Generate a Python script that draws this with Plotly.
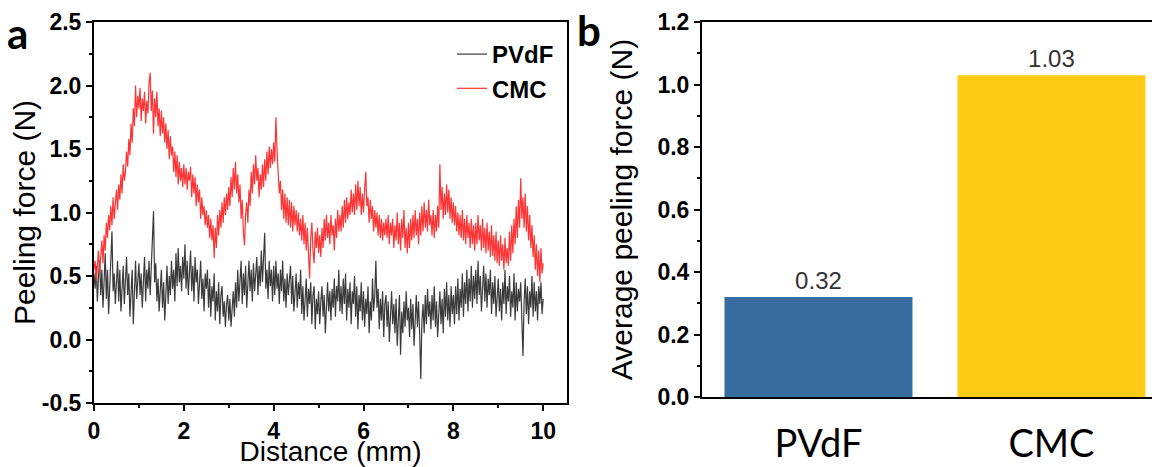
import plotly.graph_objects as go

# ---------------- data ----------------
# Peeling force (N) sampled every 0.025 mm from 0 to 10 mm
pvdf_force = [
    0.52, 0.40, 0.58, 0.30, 0.50, 0.62, 0.35, 0.55, 0.25, 0.48, 0.68, 0.32, 0.55, 0.20, 0.45, 0.60, 0.85, 0.38, 0.52, 0.28,
    0.48, 0.62, 0.30, 0.55, 0.22, 0.42, 0.58, 0.28, 0.50, 0.65, 0.35, 0.52, 0.18, 0.40, 0.55, 0.12, 0.45, 0.62, 0.32, 0.50,
    0.60, 0.35, 0.52, 0.25, 0.48, 0.65, 0.30, 0.55, 0.40, 0.62, 0.35, 0.58, 0.75, 1.01, 0.45, 0.60, 0.30, 0.48, 0.22, 0.42,
    0.55, 0.25, 0.45, 0.15, 0.40, 0.58, 0.28, 0.50, 0.35, 0.62, 0.40, 0.55, 0.30, 0.68, 0.42, 0.72, 0.45, 0.58, 0.38, 0.65,
    0.48, 0.75, 0.40, 0.62, 0.35, 0.55, 0.70, 0.38, 0.58, 0.30, 0.65, 0.45, 0.55, 0.28, 0.50, 0.62, 0.32, 0.48, 0.22, 0.52,
    0.40, 0.55, 0.25, 0.48, 0.18, 0.42, 0.30, 0.52, 0.15, 0.38, 0.22, 0.45, 0.12, 0.35, 0.42, 0.18, 0.30, 0.10, 0.28, 0.35,
    0.15, 0.32, 0.10, 0.28, 0.38, 0.18, 0.45, 0.25, 0.55, 0.30, 0.48, 0.62, 0.28, 0.52, 0.35, 0.58, 0.25, 0.48, 0.62, 0.38,
    0.55, 0.30, 0.60, 0.38, 0.52, 0.65, 0.35, 0.58, 0.42, 0.70, 0.45, 0.62, 0.84, 0.40, 0.55, 0.32, 0.62, 0.42, 0.55, 0.30,
    0.58, 0.35, 0.62, 0.40, 0.52, 0.28, 0.55, 0.38, 0.62, 0.30, 0.48, 0.25, 0.52, 0.35, 0.45, 0.58, 0.28, 0.50, 0.22, 0.42,
    0.52, 0.25, 0.45, 0.32, 0.55, 0.20, 0.42, 0.15, 0.38, 0.48, 0.18, 0.40, 0.28, 0.45, 0.12, 0.35, 0.42, 0.08, 0.32, 0.20,
    0.38, 0.12, 0.30, 0.42, 0.18, 0.35, 0.05, 0.28, 0.45, 0.22, 0.38, 0.15, 0.40, 0.25, 0.48, 0.18, 0.42, 0.30, 0.55, 0.22,
    0.42, 0.20, 0.48, 0.28, 0.52, 0.15, 0.40, 0.25, 0.45, 0.12, 0.38, 0.28, 0.50, 0.18, 0.42, 0.08, 0.35, 0.22, 0.45, 0.15,
    0.38, 0.10, 0.32, 0.20, 0.42, 0.05, 0.30, 0.15, 0.48, 0.22, 0.35, 0.62, 0.25, 0.40, 0.08, 0.32, 0.15, 0.38, 0.02, 0.28,
    0.35, 0.10, 0.30, -0.02, 0.25, 0.38, 0.12, 0.28, 0.05, 0.32, -0.05, 0.20, 0.35, -0.12, 0.22, 0.05, 0.30, 0.10, 0.38, 0.15,
    0.25, 0.02, 0.32, 0.08, 0.28, -0.05, 0.22, 0.35, 0.10, 0.30, 0.05, -0.31, 0.15, 0.28, 0.05, 0.35, 0.12, 0.40, 0.18, 0.30,
    0.08, 0.35, 0.15, 0.42, 0.10, 0.30, 0.02, 0.28, 0.38, 0.12, 0.32, 0.05, 0.40, 0.18, 0.45, 0.15, 0.35, 0.10, 0.42, 0.20,
    0.35, 0.12, 0.42, 0.20, 0.48, 0.15, 0.40, 0.25, 0.52, 0.18, 0.45, 0.28, 0.55, 0.22, 0.48, 0.30, 0.58, 0.25, 0.50, 0.32,
    0.55, 0.28, 0.62, 0.35, 0.50, 0.22, 0.45, 0.58, 0.30, 0.52, 0.25, 0.48, 0.35, 0.55, 0.20, 0.45, 0.28, 0.50, 0.18, 0.40,
    0.48, 0.22, 0.40, 0.15, 0.45, 0.28, 0.55, 0.20, 0.42, 0.30, 0.50, 0.18, 0.38, 0.25, 0.52, 0.15, 0.45, 0.22, 0.40, 0.30,
    0.45, 0.15, -0.13, 0.30, 0.48, 0.20, 0.42, 0.12, 0.38, 0.25, 0.50, 0.18, 0.45, 0.22, 0.38, 0.15, 0.42, 0.28, 0.45, 0.20,
    0.32,
]

cmc_force = [
    0.55, 0.62, 0.46, 0.58, 0.70, 0.52, 0.66, 0.78, 0.60, 0.82, 0.70, 0.92, 0.80, 0.98, 0.86, 1.05, 0.90, 1.12, 0.95, 1.08,
    1.18, 1.02, 1.22, 1.10, 1.30, 1.15, 1.38, 1.25, 1.32, 1.48, 1.36, 1.58, 1.45, 1.70, 1.55, 1.82, 1.68, 2.00, 1.75, 1.92,
    1.82, 1.98, 1.72, 1.90, 1.80, 1.95, 1.70, 1.88, 1.78, 2.02, 2.10, 1.80, 1.96, 1.62, 1.90, 1.75, 1.95, 1.68, 1.82, 1.60,
    1.80, 1.62, 1.75, 1.55, 1.70, 1.50, 1.65, 1.42, 1.60, 1.45, 1.52, 1.32, 1.48, 1.28, 1.45, 1.22, 1.40, 1.25, 1.35, 1.20,
    1.38, 1.22, 1.35, 1.18, 1.32, 1.25, 1.36, 1.12, 1.30, 1.15, 1.28, 1.05, 1.22, 1.08, 1.18, 0.95, 1.12, 0.98, 1.05, 0.90,
    1.02, 0.88, 0.98, 0.80, 0.95, 0.78, 0.90, 0.64, 0.88, 0.72, 0.98, 0.82, 1.02, 0.88, 1.08, 0.92, 1.12, 0.98, 1.15, 1.02,
    1.20, 1.05, 1.28, 1.12, 1.35, 1.18, 1.40, 1.15, 1.30, 1.08, 1.22, 0.95, 1.10, 0.85, 0.74, 0.98, 1.08, 0.92, 1.18, 1.05,
    1.32, 1.15, 1.38, 1.22, 1.45, 1.25, 1.35, 1.12, 1.30, 1.18, 1.38, 1.20, 1.42, 1.25, 1.48, 1.30, 1.52, 1.35, 1.50, 1.38,
    1.55, 1.40, 1.75, 1.48, 1.30, 1.15, 1.25, 1.02, 1.18, 0.95, 1.15, 0.92, 1.12, 0.90, 1.10, 0.88, 1.08, 0.85, 1.05, 0.90,
    1.02, 0.85, 1.00, 0.82, 0.95, 0.78, 0.98, 0.75, 0.92, 0.70, 0.88, 0.62, 0.48, 0.80, 0.92, 0.70, 0.60, 0.85, 0.72, 0.88,
    0.68, 0.82, 0.65, 0.88, 0.72, 0.95, 0.78, 0.98, 0.80, 0.92, 0.75, 0.98, 0.82, 0.90, 0.70, 0.95, 0.80, 1.02, 0.85, 0.98,
    0.85, 1.05, 0.88, 1.10, 0.92, 1.12, 0.95, 1.08, 0.98, 1.18, 1.00, 1.15, 0.98, 1.22, 1.02, 1.25, 1.05, 1.20, 0.98, 1.15,
    1.00, 1.18, 1.32, 1.05, 1.12, 0.92, 1.10, 0.95, 1.05, 0.85, 1.02, 0.88, 1.00, 0.82, 0.98, 0.80, 0.95, 0.78, 0.92, 0.82,
    0.95, 0.80, 0.98, 0.75, 0.92, 0.82, 0.95, 0.72, 0.90, 0.78, 1.00, 0.75, 0.92, 0.70, 0.95, 0.80, 1.02, 0.72, 0.88, 0.68,
    0.92, 0.72, 0.95, 0.78, 0.98, 0.80, 1.02, 0.82, 0.95, 0.75, 1.00, 0.82, 1.05, 0.85, 1.08, 0.88, 1.02, 0.85, 1.10, 0.90,
    0.98, 0.82, 1.02, 0.80, 0.98, 0.85, 1.05, 0.88, 1.38, 1.02, 1.20, 0.95, 1.15, 0.98, 1.22, 1.00, 1.18, 0.95, 1.12, 0.92,
    1.08, 0.90, 1.05, 0.85, 1.00, 0.82, 0.98, 0.80, 1.02, 0.78, 0.95, 0.75, 0.98, 0.80, 0.92, 0.72, 0.95, 0.75, 0.90, 0.70,
    0.92, 0.75, 0.98, 0.78, 0.90, 0.70, 0.95, 0.72, 0.88, 0.68, 0.92, 0.70, 0.85, 0.65, 0.90, 0.66, 0.82, 0.62, 0.85, 0.60,
    0.78, 0.58, 0.82, 0.62, 0.75, 0.55, 0.80, 0.60, 0.72, 0.58, 0.85, 0.62, 0.90, 0.68, 0.95, 0.75, 1.05, 0.80, 1.10, 0.88,
    1.27, 0.95, 1.12, 0.88, 1.15, 0.85, 1.05, 0.78, 0.98, 0.72, 0.90, 0.65, 0.82, 0.55, 0.75, 0.50, 0.70, 0.45, 0.72, 0.52,
    0.60,
]

step_mm = 0.025
pvdf_distance = [round(i * step_mm, 3) for i in range(len(pvdf_force))]
cmc_distance = [round(i * step_mm, 3) for i in range(len(cmc_force))]

left_ytick_vals = [-0.5, 0.0, 0.5, 1.0, 1.5, 2.0, 2.5]
left_ytick_text = ["-0.5", "0.0", "0.5", "1.0", "1.5", "2.0", "2.5"]

binders = ["PVdF", "CMC"]
avg_peel_force = [0.32, 1.03]
avg_labels = ["0.32", "1.03"]
bar_colors = ["#386ca0", "#fecc14"]

# ---------------- layout helpers ----------------
# The page body has an 8px margin; the figure is sized to fill the rest of the 1160x467 window.
OFF = 8
W, H = 1160 - OFF, 467 - OFF


def px(x):  # window x pixel -> paper fraction
    return (x - OFF) / W


def py(y):  # window y pixel (from top) -> paper fraction
    return 1 - (y - OFF) / H


TICKFONT = dict(family="Liberation Sans, Arial", size=23, color="black", weight="bold")
TITLEFONT = dict(family="Liberation Sans, Arial", size=30, color="black")

fig = go.Figure()
fig.add_trace(go.Scatter(x=pvdf_distance, y=pvdf_force, mode="lines", name="PVdF",
                         line=dict(color="#3a3a3a", width=1.2), xaxis="x", yaxis="y"))
fig.add_trace(go.Scatter(x=cmc_distance, y=cmc_force, mode="lines", name="CMC",
                         line=dict(color="#ff3333", width=1.2), xaxis="x", yaxis="y"))
fig.add_trace(go.Bar(x=binders, y=avg_peel_force, marker=dict(color=bar_colors, line=dict(width=0)),
                     text=avg_labels, textposition="outside",
                     textfont=dict(family="Liberation Sans, Arial", size=24, color="#333333"),
                     width=0.807, xaxis="x2", yaxis="y2", showlegend=False, cliponaxis=False))

axis_common = dict(showline=True, linewidth=2, linecolor="black", showgrid=False, zeroline=False,
                   tickcolor="black", tickwidth=2, automargin=False)

fig.update_layout(
    width=W, height=H,
    margin=dict(l=0, r=0, t=0, b=0),
    paper_bgcolor="white", plot_bgcolor="white",
    xaxis=dict(**axis_common, tickfont=TICKFONT, domain=[px(94), px(567)], range=[0, 10.53], anchor="y",
               tickmode="linear", tick0=0, dtick=2, ticks="outside", ticklen=6, mirror=True,
               minor=dict(dtick=1, ticks="outside", ticklen=3, tickwidth=2, tickcolor="black"),
               title=dict(text="Distance (mm)",
                          font=dict(family="Liberation Sans, Arial", size=28, color="black"), standoff=8)),
    yaxis=dict(**axis_common, tickfont=TICKFONT, domain=[py(403), py(22)], range=[-0.5, 2.5],
               anchor="x", tickmode="array", tickvals=left_ytick_vals, ticktext=left_ytick_text,
               ticks="outside", ticklen=6, mirror=True,
               minor=dict(dtick=0.25, tick0=0, ticks="outside", ticklen=3, tickwidth=2, tickcolor="black"),
               title=dict(text="Peeling force (N)", font=TITLEFONT, standoff=2)),
    xaxis2=dict(**axis_common, domain=[px(702), 1.0], range=[-0.5, 1.466], anchor="y2",
                ticks="", mirror=True, ticklabelstandoff=12,
                tickfont=dict(family="Lato, Open Sans", size=38, color="black")),
    yaxis2=dict(**axis_common, tickfont=TICKFONT, domain=[py(397), py(22)], range=[0, 1.2],
                anchor="x2", tickmode="linear", tick0=0, dtick=0.2, tickformat=".1f",
                ticks="outside", ticklen=6, mirror=False,
                minor=dict(dtick=0.1, ticks="outside", ticklen=3, tickwidth=2, tickcolor="black"),
                title=dict(text="Average peeling force (N)", font=TITLEFONT, standoff=16)),
    legend=dict(x=px(452), y=py(32), xanchor="left", yanchor="top",
                bgcolor="rgba(0,0,0,0)", borderwidth=0,
                font=dict(family="Liberation Sans, Arial", size=24, color="black", weight="bold"),
                tracegroupgap=0, itemwidth=30),
    showlegend=True,
    annotations=[
        dict(text="a", x=px(17), y=py(33), xref="paper", yref="paper", showarrow=False,
             font=dict(family="Lato, Liberation Sans", size=42, color="black", weight="bold"),
             xanchor="center", yanchor="middle"),
        dict(text="b", x=px(589), y=py(30), xref="paper", yref="paper", showarrow=False,
             font=dict(family="Lato, Liberation Sans", size=42, color="black", weight="bold"),
             xanchor="center", yanchor="middle"),
    ],
)

fig.write_html("out.html")
